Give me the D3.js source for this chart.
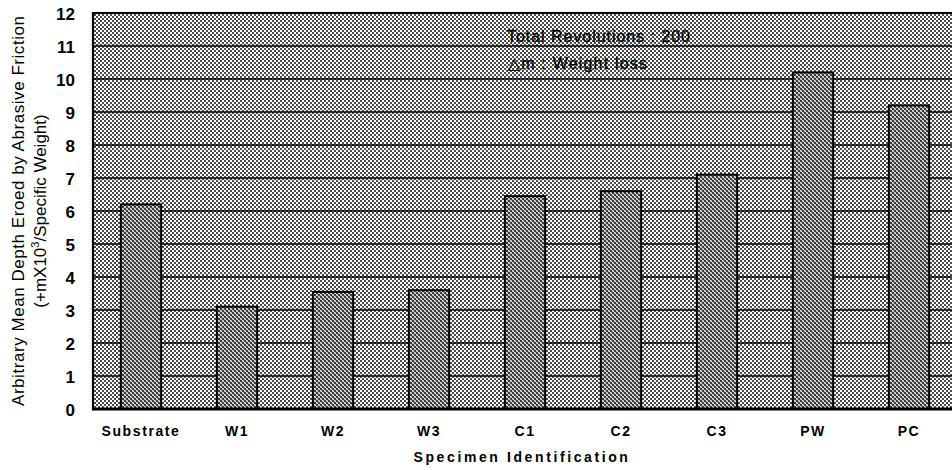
<!DOCTYPE html>
<html>
<head>
<meta charset="utf-8">
<script src="https://cdn.jsdelivr.net/npm/d3@7"></script>
<style>
  body { margin: 0; background: #fff; }
  text { font-family: "Liberation Sans", Arial, sans-serif; fill: #000; }
  .tick { font-size: 17px; font-weight: bold; }
  .cat { font-size: 14px; font-weight: bold; letter-spacing: 1.6px; }
  .xtitle { font-size: 14px; font-weight: bold; letter-spacing: 2.6px; }
  .ytitle { font-size: 17px; }
  .note { font-size: 16px; stroke: #000; stroke-width: 0.3px; }
</style>
</head>
<body>
<div id="chart"></div>
<script>
var specimens = ["Substrate", "W1", "W2", "W3", "C1", "C2", "C3", "PW", "PC"];
var depth = [6.2, 3.1, 3.55, 3.6, 6.45, 6.6, 7.1, 10.2, 9.2];
var yTicks = [0, 1, 2, 3, 4, 5, 6, 7, 8, 9, 10, 11, 12];

var width = 952, height = 470;
var plotLeft = 93, plotTop = 13, plotBottom = 409;

var svg = d3.select("#chart").append("svg")
  .attr("width", width)
  .attr("height", height);

var x = d3.scaleBand()
  .domain(specimens)
  .range([plotLeft, plotLeft + 9 * 96])
  .paddingInner(0.58)
  .paddingOuter(0.29);

var y = d3.scaleLinear()
  .domain([0, 12])
  .range([plotBottom, plotTop]);

//halftone patterns
var defs = svg.append("defs");
var bg = defs.append("pattern")
  .attr("id", "bg")
  .attr("width", 4)
  .attr("height", 4)
  .attr("patternUnits", "userSpaceOnUse");
bg.append("rect").attr("width", 4).attr("height", 4).attr("fill", "#fff");
bg.append("rect").attr("width", 2).attr("height", 2).attr("fill", "#4a4a4a");
bg.append("rect").attr("x", 2).attr("y", 2).attr("width", 2).attr("height", 2).attr("fill", "#4a4a4a");

var hatch = defs.append("pattern")
  .attr("id", "hatch")
  .attr("width", 4)
  .attr("height", 4)
  .attr("patternUnits", "userSpaceOnUse");
hatch.append("rect").attr("width", 4).attr("height", 4).attr("fill", "#e6e6e6");
hatch.append("rect").attr("width", 2).attr("height", 2).attr("fill", "#3c3c3c");
hatch.append("rect").attr("x", 2).attr("y", 2).attr("width", 2).attr("height", 2).attr("fill", "#3c3c3c");
hatch.append("path")
  .attr("d", "M0,4 L4,0 M-1,1 L1,-1 M3,5 L5,3")
  .attr("stroke", "#777")
  .attr("stroke-width", 0.6);

//plot background
svg.append("rect")
  .attr("x", plotLeft)
  .attr("y", plotTop)
  .attr("width", width - plotLeft)
  .attr("height", plotBottom - plotTop)
  .attr("fill", "url(#bg)");

//grid lines
svg.append("g")
  .selectAll("line")
  .data(yTicks.filter(function (d) { return d > 0 && d < 12; }))
  .join("line")
  .attr("x1", plotLeft)
  .attr("x2", width)
  .attr("y1", function (d) { return y(d); })
  .attr("y2", function (d) { return y(d); })
  .attr("stroke", "#000")
  .attr("stroke-width", 1.4);

//bars
svg.append("g")
  .selectAll("rect")
  .data(depth)
  .join("rect")
  .attr("x", function (d, i) { return x(specimens[i]); })
  .attr("y", function (d) { return y(d); })
  .attr("width", x.bandwidth())
  .attr("height", function (d) { return y(0) - y(d); })
  .attr("fill", "url(#hatch)")
  .attr("stroke", "#000")
  .attr("stroke-width", 2);

//frame
svg.append("line")
  .attr("x1", plotLeft).attr("x2", width)
  .attr("y1", y(12)).attr("y2", y(12))
  .attr("stroke", "#000").attr("stroke-width", 2);
svg.append("line")
  .attr("x1", plotLeft).attr("x2", plotLeft)
  .attr("y1", y(12) - 1).attr("y2", y(0) + 1.5)
  .attr("stroke", "#000").attr("stroke-width", 2.2);
svg.append("line")
  .attr("x1", plotLeft).attr("x2", width)
  .attr("y1", y(0)).attr("y2", y(0))
  .attr("stroke", "#000").attr("stroke-width", 3);

//y axis
var yAxis = d3.axisLeft(y)
  .tickValues(yTicks)
  .tickSize(0)
  .tickPadding(18);
var yg = svg.append("g")
  .attr("transform", "translate(" + plotLeft + ",0)")
  .call(yAxis);
yg.select(".domain").remove();
yg.selectAll(".tick text")
  .attr("class", "tick")
  .attr("dy", "0.36em");

//x axis
var xAxis = d3.axisBottom(x)
  .tickSize(0)
  .tickPadding(17);
var xg = svg.append("g")
  .attr("transform", "translate(0," + plotBottom + ")")
  .call(xAxis);
xg.select(".domain").remove();
xg.selectAll(".tick text")
  .attr("class", "cat");

//titles
svg.append("text")
  .attr("class", "xtitle")
  .attr("x", 522)
  .attr("y", 462)
  .attr("text-anchor", "middle")
  .text("Specimen Identification");

var tgrp = svg.append("g")
  .attr("transform", "translate(0,211) rotate(-90)");
tgrp.append("text")
  .attr("class", "ytitle")
  .attr("x", 0)
  .attr("y", 24)
  .attr("text-anchor", "middle")
  .attr("textLength", 390)
  .text("Arbitrary Mean Depth Eroed by Abrasive Friction");
var t2 = tgrp.append("text")
  .attr("class", "ytitle")
  .attr("x", 0)
  .attr("y", 46)
  .attr("text-anchor", "middle");
t2.append("tspan").text("(+mX10");
t2.append("tspan").attr("dy", -7).attr("font-size", "11px").text("3");
t2.append("tspan").attr("dy", 7).text("/Specific Weight)");

//notes
svg.append("text")
  .attr("class", "note")
  .attr("x", 507)
  .attr("y", 42)
  .attr("textLength", 183)
  .text("Total Revolutions : 200");
svg.append("text")
  .attr("class", "note")
  .attr("x", 508)
  .attr("y", 69)
  .attr("textLength", 139)
  .text("\u25B3m : Weight loss");
</script>
</body>
</html>
